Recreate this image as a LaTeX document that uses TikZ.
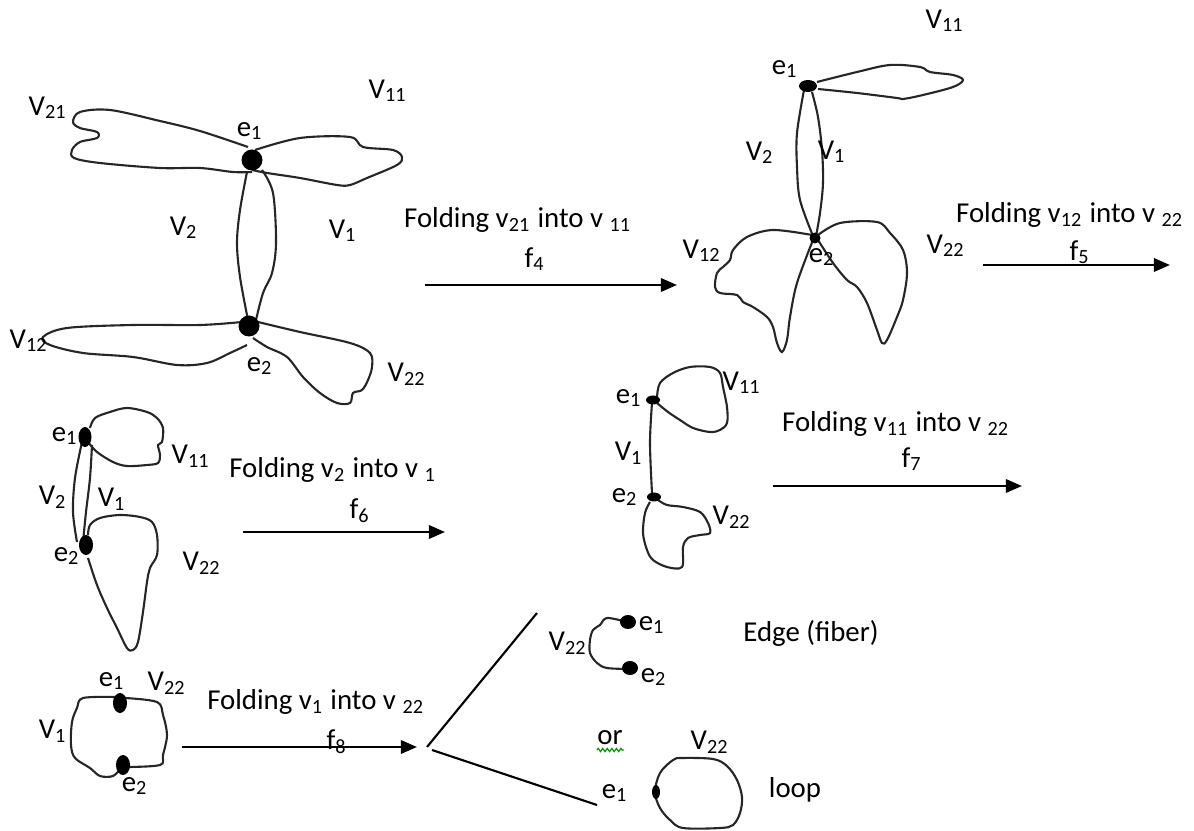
\documentclass[tikz,border=0pt]{standalone}
\usepackage{fontspec}
\setmainfont{Carlito}
\usepackage{tikz}
\usetikzlibrary{arrows.meta, decorations.pathmorphing}

\begin{document}
\begin{tikzpicture}[x=0.1mm, y=-0.1mm,
    lbl/.style={font=\fontsize{8.2}{10}\selectfont, inner sep=0pt},
    curve/.style={line width=0.6pt, black!85, smooth, tension=0.55},
    foldarrow/.style={-{Triangle[length=4.6pt,width=3.8pt]}, line width=0.7pt}]
    \useasboundingbox (0,0) rectangle (1194,831);

    % First graph: two vertices, four petals
    \draw[curve] plot coordinates {(248,147) (200,131) (160,121) (110,110) (80,112) (73,122) (80,128) (97,132) (97,138) (80,142) (72,150) (74,158) (100,163) (160,168) (200,168) (233,172) (252,172)};
    \draw[curve] plot coordinates {(255,150) (300,138) (350,137) (363,147) (393,150) (402,157) (397,165) (367,178) (350,185) (337,185) (300,178) (267,173) (252,170)};
    \draw[curve] plot coordinates {(247,172) (240,210) (237,243) (240,277) (248,320)};
    \draw[curve] plot coordinates {(262,170) (273,193) (276,243) (272,273) (263,293) (256,320)};
    \draw[curve] plot coordinates {(242,322) (200,325) (133,325) (67,328) (43,337) (50,345) (83,353) (133,357) (177,365) (207,363) (230,353) (247,345)};
    \draw[curve] plot coordinates {(258,322) (300,332) (350,343) (370,353) (372,367) (368,380) (362,390) (353,393) (350,403) (337,403) (320,393) (303,377) (287,357) (267,347) (253,338)};
    \fill (252,160) circle [radius=10.5];
    \fill (249,326) circle [radius=10.5];
    \node[lbl] (av21) at (48,108) {V\textsubscript{21}};
    \node[lbl] (av11) at (388,91) {V\textsubscript{11}};
    \node[lbl] (ae1) at (250,131) {e\textsubscript{1}};
    \node[lbl] (av2) at (184,228) {V\textsubscript{2}};
    \node[lbl] (av1) at (343,231) {V\textsubscript{1}};
    \node[lbl] (av12) at (29,341) {V\textsubscript{12}};
    \node[lbl] (ae2) at (260,366) {e\textsubscript{2}};
    \node[lbl] (av22) at (407,374) {V\textsubscript{22}};

    % f4
    \coordinate (fa4s) at (425,285);
    \coordinate (fa4e) at (677,285);
    \draw[foldarrow] (fa4s) -- (fa4e);
    \node[lbl] (fold4) at (518,220) {Folding v\textsubscript{21} into v \textsubscript{11}};
    \node[lbl] (f4) at (535,259) {f\textsubscript{4}};

    % Second graph
    \draw[curve] plot coordinates {(817,82) (857,72) (890,65) (920,67) (930,72) (953,75) (963,80) (953,87) (923,95) (903,99) (897,98) (857,93) (818,89)};
    \draw[curve] plot coordinates {(804,90) (797,133) (797,167) (800,200) (813,236)};
    \draw[curve] plot coordinates {(812,92) (818,117) (822,150) (823,183) (820,213) (816,236)};
    \draw[curve] plot coordinates {(812,235) (773,230) (747,237) (733,250) (730,260) (723,267) (717,273) (715,287) (720,293) (737,295) (743,302) (753,307) (767,317) (773,327) (777,343) (782,352) (787,340) (790,317) (797,283) (813,240)};
    \draw[curve] plot coordinates {(818,235) (840,223) (877,222) (890,233) (903,250) (907,273) (903,300) (897,317) (887,340) (882,343) (877,330) (867,303) (857,287) (847,280) (833,263) (818,240)};
    \fill (808,86) ellipse [x radius=9, y radius=6];
    \fill (815,238) circle [radius=5.5];
    \node[lbl] (bv11) at (945,21) {V\textsubscript{11}};
    \node[lbl] (be1) at (785,69) {e\textsubscript{1}};
    \node[lbl] (bv2) at (760,153) {V\textsubscript{2}};
    \node[lbl] (bv1) at (832,152) {V\textsubscript{1}};
    \node[lbl] (bv12) at (702,251) {V\textsubscript{12}};
    \node[lbl] (be2) at (822,257) {e\textsubscript{2}};
    \node[lbl] (bv22) at (946,246) {V\textsubscript{22}};

    % f5
    \coordinate (fa5s) at (983,265);
    \coordinate (fa5e) at (1170,265);
    \draw[foldarrow] (fa5s) -- (fa5e);
    \node[lbl] (fold5) at (1070,215) {Folding v\textsubscript{12} into v \textsubscript{22}};
    \node[lbl] (f5) at (1080,252) {f\textsubscript{5}};

    % Third graph
    \draw[curve] plot coordinates {(90,428) (95,418) (110,412) (127,408) (147,412) (157,418) (163,428) (162,442) (158,445) (160,455) (158,463) (147,465) (127,466) (113,462) (97,452) (88,442)};
    \draw[curve] plot coordinates {(82,442) (75,478) (73,512) (77,542)};
    \draw[curve] plot coordinates {(92,445) (90,478) (86,512) (83,542)};
    \draw[curve] plot coordinates {(88,535) (90,525) (100,518) (120,515) (140,517) (152,522) (157,535) (157,555) (150,568) (147,582) (143,612) (138,642) (133,650) (127,648) (117,628) (107,608) (97,585) (88,558)};
    \fill (85,437) ellipse [x radius=6.5, y radius=10];
    \fill (86,545) ellipse [x radius=7, y radius=10];
    \node[lbl] (ce1) at (65,436) {e\textsubscript{1}};
    \node[lbl] (cv11) at (191,456) {V\textsubscript{11}};
    \node[lbl] (cv2) at (53,497) {V\textsubscript{2}};
    \node[lbl] (cv1) at (112,499) {V\textsubscript{1}};
    \node[lbl] (ce2) at (67,556) {e\textsubscript{2}};
    \node[lbl] (cv22) at (202,563) {V\textsubscript{22}};

    % f6
    \coordinate (fa6s) at (243,532);
    \coordinate (fa6e) at (445,532);
    \draw[foldarrow] (fa6s) -- (fa6e);
    \node[lbl] (fold6) at (333,470) {Folding v\textsubscript{2} into v \textsubscript{1}};
    \node[lbl] (f6) at (360,511) {f\textsubscript{6}};

    % Fourth graph
    \draw[curve] plot coordinates {(657,397) (660,383) (673,373) (690,367) (710,367) (720,373) (723,387) (727,407) (727,423) (720,430) (710,432) (693,428) (680,420) (668,412) (657,403)};
    \draw[curve] plot coordinates {(652,403) (650,443) (652,493)};
    \draw[curve] plot coordinates {(658,500) (667,505) (683,507) (700,512) (708,523) (710,533) (700,535) (688,538) (683,547) (682,567) (667,567) (653,560) (647,550) (643,533) (645,513) (650,502)};
    \fill (653,400) ellipse [x radius=7, y radius=4.5];
    \fill (654,497) ellipse [x radius=7, y radius=4.5];
    \node[lbl] (de1) at (629,398) {e\textsubscript{1}};
    \node[lbl] (dv11) at (742,383) {V\textsubscript{11}};
    \node[lbl] (dv1) at (629,453) {V\textsubscript{1}};
    \node[lbl] (de2) at (625,497) {e\textsubscript{2}};
    \node[lbl] (dv22) at (732,517) {V\textsubscript{22}};

    % f7
    \coordinate (fa7s) at (773,486);
    \coordinate (fa7e) at (1022,486);
    \draw[foldarrow] (fa7s) -- (fa7e);
    \node[lbl] (fold7) at (896,424) {Folding v\textsubscript{11} into v \textsubscript{22}};
    \node[lbl] (f7) at (912,459) {f\textsubscript{7}};

    % Fifth graph
    \draw[curve] plot coordinates {(115,697) (83,698) (77,708) (72,722) (71,745) (75,758) (90,768) (100,776) (113,776) (121,768)};
    \draw[curve] plot coordinates {(125,698) (157,702) (163,715) (167,735) (163,755) (160,765) (127,767)};
    \fill (120,703) ellipse [x radius=7, y radius=10];
    \fill (123,765) ellipse [x radius=7, y radius=10];
    \node[lbl] (ee1) at (112,681) {e\textsubscript{1}};
    \node[lbl] (ev22) at (167,683) {V\textsubscript{22}};
    \node[lbl] (ev1) at (53,731) {V\textsubscript{1}};
    \node[lbl] (ee2) at (135,786) {e\textsubscript{2}};

    % f8 and the two outcomes
    \coordinate (fa8s) at (182,747);
    \coordinate (fa8e) at (417,747);
    \draw[foldarrow] (fa8s) -- (fa8e);
    \node[lbl] (fold8) at (316,702) {Folding v\textsubscript{1} into v \textsubscript{22}};
    \node[lbl] (f8) at (337,742) {f\textsubscript{8}};
    \coordinate (forka) at (427,747);
    \coordinate (forkb) at (432,750);
    \coordinate (uptip) at (537,613);
    \coordinate (lowtip) at (597,805);
    \draw[line width=0.6pt] (forka) -- (uptip);
    \draw[line width=0.6pt] (forkb) -- (lowtip);

    % edge (fiber)
    \draw[curve] plot coordinates {(627,622) (607,618) (600,625) (593,630) (590,640) (590,653) (597,663) (607,668) (630,669)};
    \fill (628,622) ellipse [x radius=8, y radius=7];
    \fill (630,668) ellipse [x radius=8, y radius=7];
    \node[lbl] (gv22) at (568,643) {V\textsubscript{22}};
    \node[lbl] (ge1) at (652,625) {e\textsubscript{1}};
    \node[lbl] (ge2) at (654,677) {e\textsubscript{2}};
    \node[lbl] (fiber) at (811,633) {Edge (fiber)};

    \node[lbl] (ortext) at (610,738) {or};
    \draw[green!60!black, line width=0.35pt, decorate, decoration={zigzag, amplitude=0.45pt, segment length=1.3pt}] (597,750) -- (624,750);

    % loop
    \draw[curve] plot[smooth cycle] coordinates {(655,792) (660,773) (673,760) (682,758) (713,759) (727,766) (737,780) (742,797) (740,813) (733,825) (720,828) (683,828) (670,820) (660,808)};
    \fill (656,792) ellipse [x radius=4, y radius=7];
    \node[lbl] (hv22) at (710,742) {V\textsubscript{22}};
    \node[lbl] (he1) at (615,793) {e\textsubscript{1}};
    \node[lbl] (loop) at (795,790) {loop};
\end{tikzpicture}
\end{document}
